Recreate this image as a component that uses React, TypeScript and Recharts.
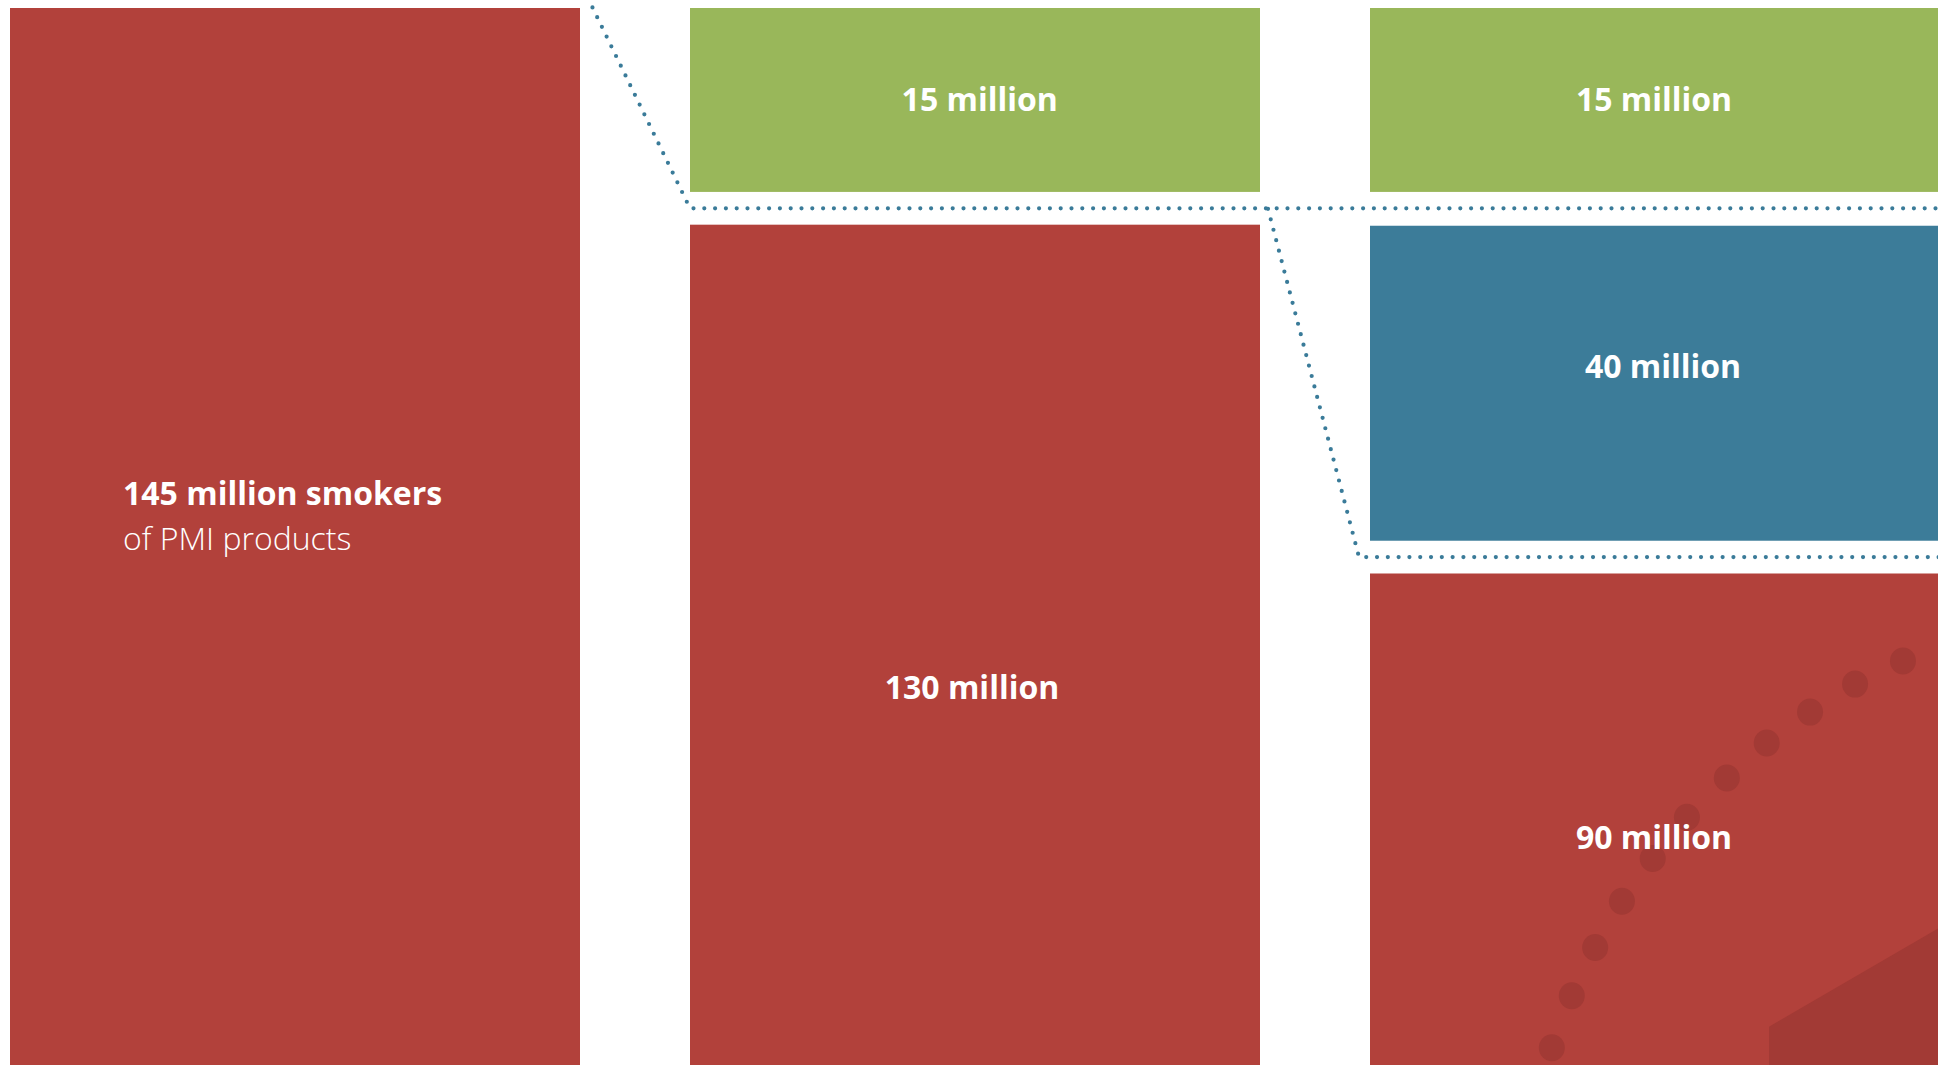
import React from 'react';
import { BarChart, Bar, XAxis, YAxis } from 'recharts';

// ---- data (drawn heights are shares of the full column height) ----
const categories = ['PMI smokers', 'Step 1', 'Step 2'];
const redShare = [100, 79.5, 46.5];
const lowerGapShare = [0, 0, 3.1];
const blueShare = [0, 0, 29.8];
const upperGapShare = [0, 3.1, 3.2];
const greenShare = [0, 17.4, 17.4];

const redLabels = ['145 million smokers', '130 million', '90 million'];
const redSubLabels = ['of PMI products', '', ''];
const blueLabels = ['', '', '40 million'];
const greenLabels = ['', '15 million', '15 million'];

const data = categories.map((name, i) => ({
  name,
  red: redShare[i],
  lowerGap: lowerGapShare[i],
  blue: blueShare[i],
  upperGap: upperGapShare[i],
  green: greenShare[i],
  redLabel: redLabels[i],
  redSub: redSubLabels[i],
  blueLabel: blueLabels[i],
  greenLabel: greenLabels[i],
}));

// ---- style ----
const RED = '#B2413B';
const DARK_RED = '#A23A35';
const GREEN = '#99B75A';
const BLUE = '#3C7C99';
const DOT = '#3A7B99';
const FONT = '"Open Sans", "Noto Sans", sans-serif';
const FS = 32;

// label offsets: dx from bar centre (or left edge for the first column), dy = baseline vs. segment centre
const redLabelPos = [
  { dx: 113, dy: -31.5, anchor: 'start' },
  { dx: -3, dy: 54, anchor: 'middle' },
  { dx: -1, dy: 30, anchor: 'middle' },
];
const blueLabelPos = [null, null, { dx: 8, dy: -5 }];
const greenLabelPos = [null, { dx: 4.7, dy: 11 }, { dx: -1, dy: 11 }];

// decorative background motif on the last red block (fractions of the block)
const decoDots: [number, number][] = [
  [0.935, 0.178], [0.851, 0.225], [0.772, 0.282], [0.696, 0.345], [0.626, 0.416],
  [0.556, 0.496], [0.496, 0.58], [0.442, 0.667], [0.395, 0.761], [0.354, 0.859], [0.319, 0.965],
];
const decoPoly: [number, number][] = [[0.7, 0.922], [1, 0.72], [1, 1], [0.7, 1]];

const dotted = {
  fill: 'none',
  stroke: DOT,
  strokeWidth: 4.2,
  strokeLinecap: 'round' as const,
  strokeDasharray: '0 10.8',
};

function RedShape(props: any) {
  const { x, y, width, height, index, payload } = props;
  if (!height || height <= 0) return null;
  const pos = redLabelPos[index];
  const cy = y + height / 2;
  const last = index === categories.length - 1;
  const tx = pos.anchor === 'start' ? x + pos.dx : x + width / 2 + pos.dx;
  return (
    <g>
      <rect x={x} y={y} width={width} height={height} fill={RED} />
      {last && (
        <g fill={DARK_RED}>
          <polygon points={decoPoly.map(([fx, fy]) => `${x + fx * width},${y + fy * height}`).join(' ')} />
          {decoDots.map(([fx, fy], k) => (
            <ellipse key={k} cx={x + fx * width} cy={y + fy * height} rx={13} ry={13.5} />
          ))}
        </g>
      )}
      <text
        x={tx}
        y={cy + pos.dy}
        textAnchor={pos.anchor as any}
        fill="#ffffff"
        fontFamily={FONT}
        fontWeight={700}
        fontSize={FS}
      >
        {payload.redLabel}
      </text>
      {payload.redSub && (
        <text
          x={tx}
          y={cy + pos.dy + 45}
          textAnchor={pos.anchor as any}
          fill="#ffffff"
          fontFamily={FONT}
          fontWeight={300}
          fontSize={FS}
        >
          {payload.redSub}
        </text>
      )}
    </g>
  );
}

function BlueShape(props: any) {
  const { x, y, width, height, index, payload } = props;
  if (!height || height <= 0) return null;
  const pos = blueLabelPos[index];
  return (
    <g>
      <rect x={x} y={y} width={width} height={height} fill={BLUE} />
      {pos && (
        <text
          x={x + width / 2 + pos.dx}
          y={y + height / 2 + pos.dy}
          textAnchor="middle"
          fill="#ffffff"
          fontFamily={FONT}
          fontWeight={700}
          fontSize={FS}
        >
          {payload.blueLabel}
        </text>
      )}
    </g>
  );
}

function GreenShape(props: any) {
  const { x, y, width, height, index, payload } = props;
  if (!height || height <= 0) return null;
  const pos = greenLabelPos[index];
  return (
    <g>
      <rect x={x} y={y} width={width} height={height} fill={GREEN} />
      {pos && (
        <text
          x={x + width / 2 + pos.dx}
          y={y + height / 2 + pos.dy}
          textAnchor="middle"
          fill="#ffffff"
          fontFamily={FONT}
          fontWeight={700}
          fontSize={FS}
        >
          {payload.greenLabel}
        </text>
      )}
    </g>
  );
}

// upper gap of the second column: connector from the first block down to the split, then across
function UpperGapShape(props: any) {
  const { x, y, height, index } = props;
  if (!height || height <= 0 || index !== 1) return null;
  const midY = y + height / 2;
  const topY = -12;
  const slope = 101 / 208;
  const startX = x - slope * (midY - topY);
  return <path d={`M${startX},${topY} L${x},${midY} L${x + 2400},${midY}`} style={dotted} />;
}

// lower gap of the last column: connector from the upper split line down to the lower one
function LowerGapShape(props: any) {
  const { x, y, height, payload } = props;
  if (!height || height <= 0) return null;
  const ppu = height / payload.lowerGap;
  const midY = y + height / 2;
  const upperMid = y - payload.blue * ppu - (payload.upperGap * ppu) / 2;
  return (
    <path
      d={`M${x - 102},${upperMid} L${x - 11},${midY} L${x + 1200},${midY}`}
      style={dotted}
    />
  );
}

export default function App() {
  return (
    <div
      style={{
        position: 'fixed',
        left: 0,
        top: 0,
        width: 1938,
        height: 1068,
        overflow: 'hidden',
        background: '#ffffff',
      }}
    >
      <div style={{ position: 'absolute', left: -45, top: 0 }}>
        <BarChart
          width={2040}
          height={1068}
          data={data}
          margin={{ top: 8, right: 0, bottom: 3, left: 0 }}
          barSize={570}
        >
          <XAxis dataKey="name" hide />
          <YAxis hide domain={[0, 100]} />
          <Bar dataKey="red" stackId="s" fill={RED} shape={RedShape} isAnimationActive={false} />
          <Bar dataKey="lowerGap" stackId="s" fill="none" shape={LowerGapShape} isAnimationActive={false} />
          <Bar dataKey="blue" stackId="s" fill={BLUE} shape={BlueShape} isAnimationActive={false} />
          <Bar dataKey="upperGap" stackId="s" fill="none" shape={UpperGapShape} isAnimationActive={false} />
          <Bar dataKey="green" stackId="s" fill={GREEN} shape={GreenShape} isAnimationActive={false} />
        </BarChart>
      </div>
    </div>
  );
}
